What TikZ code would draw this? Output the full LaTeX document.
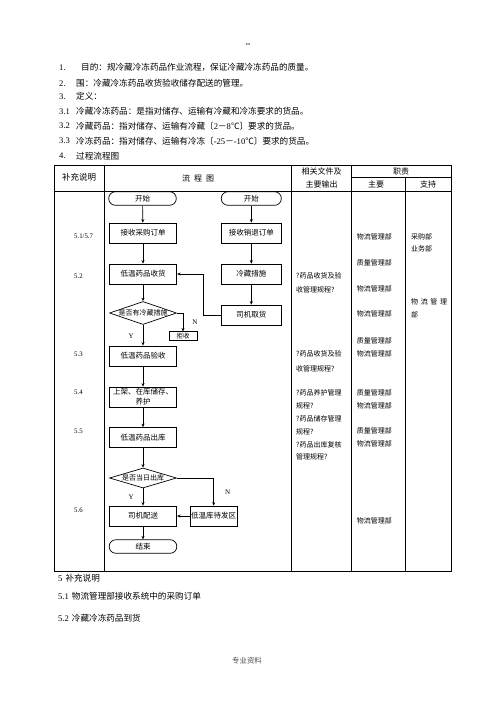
\documentclass[tikz,border=0pt]{standalone}
\usepackage{fontspec}
\setmainfont{Liberation Serif}
\newfontfamily\cjk{Noto Sans CJK SC}
\usetikzlibrary{arrows.meta, positioning, shapes.geometric}

\begin{document}
\begin{tikzpicture}[x=1pt, y=-1pt,
  box/.style={draw, line width=0.7pt, minimum width=67.5pt, minimum height=20pt, inner sep=1pt, font=\cjk\fontsize{7.5}{9}\selectfont},
  rbox/.style={box, minimum width=59.5pt},
  term/.style={box, rounded corners=6.5pt, minimum height=13.5pt},
  dec/.style={draw, diamond, line width=0.7pt, minimum width=67pt, inner sep=0pt},
  arr/.style={line width=0.7pt, -{Stealth[length=3.5pt, width=3pt]}},
  tbl/.style={line width=0.9pt},
  cn/.style={inner sep=0pt, font=\cjk\fontsize{7}{9}\selectfont},
  para/.style={anchor=west, inner sep=0pt, font=\cjk\fontsize{8.6}{10}\selectfont},
  num/.style={anchor=west, inner sep=0pt, font=\fontsize{8.6}{10}\selectfont},
  sec/.style={anchor=west, inner sep=0pt, font=\fontsize{6.8}{8}\selectfont},
  yn/.style={inner sep=0pt, font=\fontsize{7}{8}\selectfont}]
  \useasboundingbox (0,0) rectangle (496,702);

  % text above the table
  \node[inner sep=0pt, font=\fontsize{6}{6}\selectfont] (dots) at (248,45) {\textbullet\textbullet};
  \node[num] (n1) at (59,67.7) {1.};
  \node[para] (t1) at (81,67.7) {目的：规冷藏冷冻药品作业流程，保证冷藏冷冻药品的质量。};
  \node[num] (n2) at (59,83.3) {2.};
  \node[para] (t2) at (76,83.3) {围：冷藏冷冻药品收货验收储存配送的管理。};
  \node[num] (n3) at (59,96.7) {3.};
  \node[para] (t3) at (76,96.7) {定义：};
  \node[num] (n31) at (59,111.7) {3.1};
  \node[para] (t31) at (76,111.7) {冷藏冷冻药品：是指对储存、运输有冷藏和冷冻要求的货品。};
  \node[num] (n32) at (59,126) {3.2};
  \node[para] (t32) at (76,126) {冷藏药品：指对储存、运输有冷藏〔{\rmfamily 2}－{\rmfamily 8}℃〕要求的货品。};
  \node[num] (n33) at (59,141) {3.3};
  \node[para] (t33) at (76,141) {冷冻药品：指对储存、运输有冷冻〔{\rmfamily -25}－{\rmfamily -10}℃〕要求的货品。};
  \node[num] (n4) at (59,156) {4.};
  \node[para] (t4) at (76,156) {过程流程图};

  % table
  \draw[tbl] (54,165.7) rectangle (451,571);
  \draw[tbl] (54,191) -- (451,191);
  \draw[tbl] (351.5,177.7) -- (451,177.7);
  \foreach \x in {104,291.5,351.5}
    \draw[tbl] (\x,165.7) -- (\x,571);
  \draw[tbl] (405.5,177.7) -- (405.5,571);
  \node[cn, font=\cjk\fontsize{8.5}{10}\selectfont] (h1) at (79,177.7) {补充说明};
  \node[cn, font=\cjk\fontsize{8}{10}\selectfont] (h2) at (198,178) {流\hspace{4pt}程\hspace{4pt}图};
  \node[cn, font=\cjk\fontsize{8}{10}\selectfont] (h3) at (321.5,171.7) {相关文件及};
  \node[cn, font=\cjk\fontsize{8}{10}\selectfont] (h4) at (321.5,184.3) {主要输出};
  \node[cn, font=\cjk\fontsize{8}{10}\selectfont] (h5) at (401,171.7) {职责};
  \node[cn, font=\cjk\fontsize{8}{10}\selectfont] (h6) at (376,184.3) {主要};
  \node[cn, font=\cjk\fontsize{8}{10}\selectfont] (h7) at (428,184.3) {支持};

  % step numbers
  \node[sec] (s51) at (74,236.7) {5.1/5.7};
  \node[sec] (s52) at (74,276.7) {5.2};
  \node[sec] (s53) at (74,354) {5.3};
  \node[sec] (s54) at (74,392.7) {5.4};
  \node[sec] (s55) at (74,431.7) {5.5};
  \node[sec] (s56) at (74,510) {5.6};

  % flow chart
  \node[term] (st1) at (142.5,198.5) {开始};
  \node[term, minimum width=60pt] (st2) at (251.3,198.5) {开始};
  \node[box] (po) at (143,233) {接收采购订单};
  \node[rbox] (ro) at (251.3,233) {接收销退订单};
  \node[box] (rcv) at (143,274) {低温药品收货};
  \node[rbox] (cold) at (251.3,274) {冷藏措施};
  \node[dec, minimum height=23pt, label={[cn]center:是否有冷藏措施}] (d1) at (143,313) {};
  \node[rbox] (pick) at (251.3,315) {司机取货};
  \node[box, minimum width=28pt, minimum height=8.5pt, inner sep=0.5pt, font=\cjk\fontsize{6.5}{7}\selectfont] (rej) at (183,336) {拒收};
  \node[box] (chk) at (143,356) {低温药品验收};
  \node[box, align=center, font=\cjk\fontsize{7.5}{10}\selectfont] (shelf) at (143,397) {上架、在库储存、\\养护};
  \node[box] (outb) at (143,437.5) {低温药品出库};
  \node[dec, minimum height=20pt, label={[cn]center:是否当日出库}] (d2) at (143,478) {};
  \node[box] (drv) at (143,516) {司机配送};
  \node[box, minimum width=46pt] (zone) at (213.7,516) {低温库待发区};
  \node[term] (fin) at (143,546.5) {结束};

  \draw[arr] (st1) -- (po);
  \draw[arr] (po) -- (rcv);
  \draw[arr] (rcv) -- (d1);
  \draw[arr] (d1) -- (chk) node[pos=0.55, left=9pt, yn] {Y};
  \draw[arr] (d1.east) -| (rej.north) node[pos=0.75, right=9pt, yn] {N};
  \draw[arr] (st2) -- (ro);
  \draw[arr] (ro) -- (cold);
  \draw[arr] (cold) -- (pick);
  \draw[arr] (pick.west) -- ++(-17.7,0) |- (rcv.east);
  \draw[arr] (chk) -- (shelf);
  \draw[arr] (shelf) -- (outb);
  \draw[arr] (outb) -- (d2);
  \draw[arr] (d2) -- (drv) node[pos=0.5, left=9pt, yn] {Y};
  \draw[arr] (d2.east) -| (zone.north) node[pos=0.75, right=11pt, yn] {N};
  \draw[arr] (zone) -- (drv);
  \draw[arr] (drv) -- (fin);

  % documents and duties
  \node[cn, anchor=west, align=left, font=\cjk\fontsize{7}{13.3}\selectfont] (doc1) at (296,282.7) {?药品收货及验\\收管理规程?};
  \node[cn, anchor=west, align=left, font=\cjk\fontsize{7}{14.3}\selectfont] (doc2) at (296,361.2) {?药品收货及验\\收管理规程?};
  \node[cn, anchor=west, align=left, font=\cjk\fontsize{7}{12.92}\selectfont] (doc3) at (296,425) {?药品养护管理\\规程?\\?药品储存管理\\规程?\\?药品出库复核\\管理规程?};
  \foreach \y/\t in {236.7/物流管理部, 263.3/质量管理部, 289/物流管理部, 314.3/物流管理部,
                     340.7/质量管理部, 354/物流管理部, 392.7/质量管理部, 405.7/物流管理部,
                     431/质量管理部, 444.3/物流管理部, 521/物流管理部}
    \node[cn, anchor=west] at (356.7,\y) {\t};
  \node[cn, anchor=west] (sup1) at (411,236.7) {采购部};
  \node[cn, anchor=west] (sup2) at (411,249.3) {业务部};
  \node[cn, anchor=west] (sup3) at (411,302.3) {物\hspace{2.6pt}流\hspace{2.6pt}管\hspace{2.6pt}理};
  \node[cn, anchor=west] (sup4) at (411,315) {部};

  % text below the table
  \node[para] (b5) at (58,578.3) {{\rmfamily 5}\hspace{3pt}补充说明};
  \node[para] (b51) at (58,596.7) {{\rmfamily 5.1}\hspace{3pt}物流管理部接收系统中的采购订单};
  \node[para] (b52) at (58,618.3) {{\rmfamily 5.2}\hspace{3pt}冷藏冷冻药品到货};
  \node[cn, font=\cjk\fontsize{7.4}{9}\selectfont, text=black!70] (foot) at (247,660.7) {专业资料};
\end{tikzpicture}
\end{document}
